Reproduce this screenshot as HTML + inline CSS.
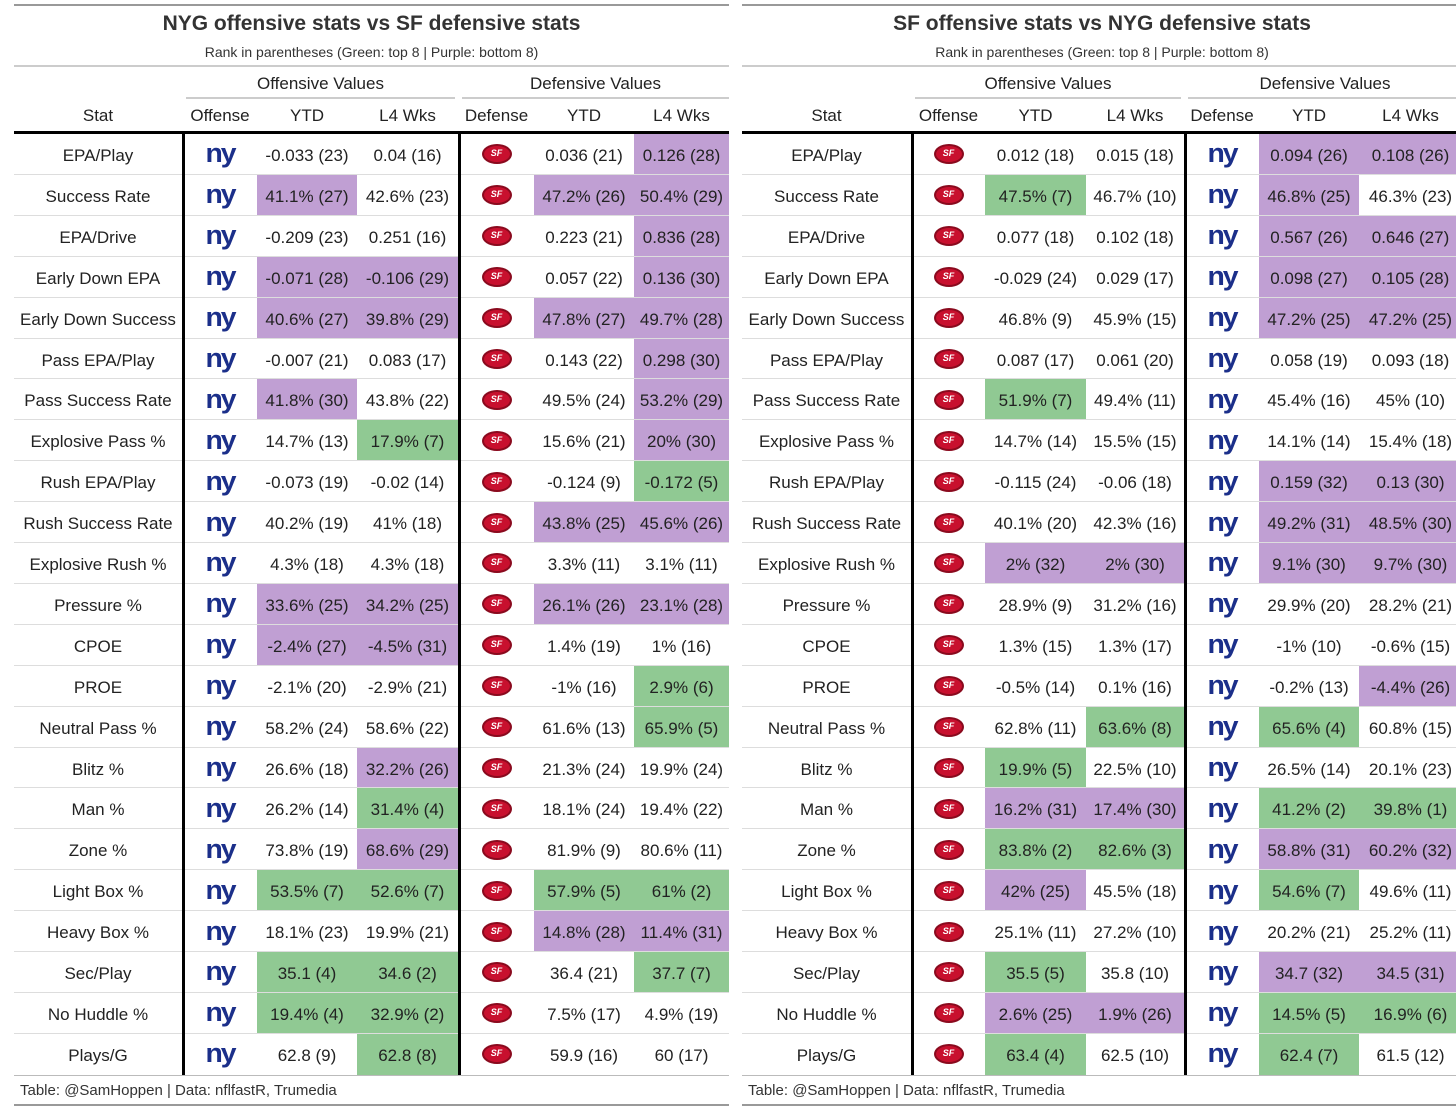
<!DOCTYPE html>
<html><head><meta charset="utf-8">
<style>
body{margin:0;width:1456px;height:1110px;background:#fff;overflow:hidden;font-family:"Liberation Sans",sans-serif;color:#222;position:relative}
div.a{position:absolute;box-sizing:border-box}
.t{text-align:center;white-space:nowrap}
.ny{font-family:"Liberation Sans",sans-serif;font-weight:bold;color:#1b2f8a;font-size:27px;letter-spacing:-2px;line-height:28px;transform:scaleX(1.05)}
.sf{width:30px;height:19px;border-radius:50%;background:#c8102e;border:2px solid #8a0a1e;box-sizing:border-box;color:#fff;font-size:9px;font-weight:bold;line-height:15px;text-align:center;font-style:italic}
</style></head><body>
<script>
const stats=["EPA/Play","Success Rate","EPA/Drive","Early Down EPA","Early Down Success","Pass EPA/Play","Pass Success Rate","Explosive Pass %","Rush EPA/Play","Rush Success Rate","Explosive Rush %","Pressure %","CPOE","PROE","Neutral Pass %","Blitz %","Man %","Zone %","Light Box %","Heavy Box %","Sec/Play","No Huddle %","Plays/G"];
const nygOffYTD=["-0.033 (23)","41.1% (27)","-0.209 (23)","-0.071 (28)","40.6% (27)","-0.007 (21)","41.8% (30)","14.7% (13)","-0.073 (19)","40.2% (19)","4.3% (18)","33.6% (25)","-2.4% (27)","-2.1% (20)","58.2% (24)","26.6% (18)","26.2% (14)","73.8% (19)","53.5% (7)","18.1% (23)","35.1 (4)","19.4% (4)","62.8 (9)"];
const nygOffL4=["0.04 (16)","42.6% (23)","0.251 (16)","-0.106 (29)","39.8% (29)","0.083 (17)","43.8% (22)","17.9% (7)","-0.02 (14)","41% (18)","4.3% (18)","34.2% (25)","-4.5% (31)","-2.9% (21)","58.6% (22)","32.2% (26)","31.4% (4)","68.6% (29)","52.6% (7)","19.9% (21)","34.6 (2)","32.9% (2)","62.8 (8)"];
const sfDefYTD=["0.036 (21)","47.2% (26)","0.223 (21)","0.057 (22)","47.8% (27)","0.143 (22)","49.5% (24)","15.6% (21)","-0.124 (9)","43.8% (25)","3.3% (11)","26.1% (26)","1.4% (19)","-1% (16)","61.6% (13)","21.3% (24)","18.1% (24)","81.9% (9)","57.9% (5)","14.8% (28)","36.4 (21)","7.5% (17)","59.9 (16)"];
const sfDefL4=["0.126 (28)","50.4% (29)","0.836 (28)","0.136 (30)","49.7% (28)","0.298 (30)","53.2% (29)","20% (30)","-0.172 (5)","45.6% (26)","3.1% (11)","23.1% (28)","1% (16)","2.9% (6)","65.9% (5)","19.9% (24)","19.4% (22)","80.6% (11)","61% (2)","11.4% (31)","37.7 (7)","4.9% (19)","60 (17)"];
const sfOffYTD=["0.012 (18)","47.5% (7)","0.077 (18)","-0.029 (24)","46.8% (9)","0.087 (17)","51.9% (7)","14.7% (14)","-0.115 (24)","40.1% (20)","2% (32)","28.9% (9)","1.3% (15)","-0.5% (14)","62.8% (11)","19.9% (5)","16.2% (31)","83.8% (2)","42% (25)","25.1% (11)","35.5 (5)","2.6% (25)","63.4 (4)"];
const sfOffL4=["0.015 (18)","46.7% (10)","0.102 (18)","0.029 (17)","45.9% (15)","0.061 (20)","49.4% (11)","15.5% (15)","-0.06 (18)","42.3% (16)","2% (30)","31.2% (16)","1.3% (17)","0.1% (16)","63.6% (8)","22.5% (10)","17.4% (30)","82.6% (3)","45.5% (18)","27.2% (10)","35.8 (10)","1.9% (26)","62.5 (10)"];
const nygDefYTD=["0.094 (26)","46.8% (25)","0.567 (26)","0.098 (27)","47.2% (25)","0.058 (19)","45.4% (16)","14.1% (14)","0.159 (32)","49.2% (31)","9.1% (30)","29.9% (20)","-1% (10)","-0.2% (13)","65.6% (4)","26.5% (14)","41.2% (2)","58.8% (31)","54.6% (7)","20.2% (21)","34.7 (32)","14.5% (5)","62.4 (7)"];
const nygDefL4=["0.108 (26)","46.3% (23)","0.646 (27)","0.105 (28)","47.2% (25)","0.093 (18)","45% (10)","15.4% (18)","0.13 (30)","48.5% (30)","9.7% (30)","28.2% (21)","-0.6% (15)","-4.4% (26)","60.8% (15)","20.1% (23)","39.8% (1)","60.2% (32)","49.6% (11)","25.2% (11)","34.5 (31)","16.9% (6)","61.5 (12)"];

const ROW0=134, RH=40.9;
function el(x,y,w,h,css,txt,name){const d=document.createElement('div');d.className='a'+(txt!==undefined?' t':'');
d.style.cssText=`left:${x}px;top:${y}px;width:${w}px;height:${h}px;`+(css||'');
if(txt!==undefined){d.textContent=txt;}


document.body.appendChild(d);return d;}
function rankColor(s){const r=+s.match(/\((\d+)\)/)[1];return r<=8?'#90c993':(r>=25?'#c09fd3':'transparent');}
function logo(type,cx,cy){
  let d;
  if(type==='ny'){d=el(cx-20,cy-15,40,28,'', 'ny','ny-logo');d.classList.add('ny');}
  else{d=el(cx-15,cy-10,30,20,'','SF','sf-logo');d.classList.add('sf');}
}
function table(X,cols,title,offTeam,defTeam,oy,ol,dy,dl,key){
  const [s0,s1,o0,o1,o2,o3,d0,d1,d2,d3]=cols;
  el(X,4,d3-X,2,'background:#999','', key+'-top-rule');
  el(X,9,d3-X,30,'font-size:21px;font-weight:bold;line-height:30px;color:#333',title,key+'-title');
  el(X,42,d3-X,20,'font-size:14px;line-height:20px;color:#333','Rank in parentheses (Green: top 8 | Purple: bottom 8)',key+'-subtitle');
  el(X,65,d3-X,2,'background:#ccc','',key+'-subtitle-rule');
  el(o0+3,73,o3-o0-6,22,'font-size:17px;line-height:22px','Offensive Values',key+'-offense-spanner');
  el(o0+3,97,o3-o0-6,2,'background:#ccc','',key+'-offense-spanner-rule');
  el(d0+3,73,d3-d0-3,22,'font-size:17px;line-height:22px','Defensive Values',key+'-defense-spanner');
  el(d0+3,97,d3-d0-3,2,'background:#ccc','',key+'-defense-spanner-rule');
  const heads=[[s0,s1,'Stat'],[o0,o1,'Offense'],[o1,o2,'YTD'],[o2,o3,'L4 Wks'],[d0,d1,'Defense'],[d1,d2,'YTD'],[d2,d3,'L4 Wks']];
  heads.forEach((h,i)=>el(h[0],105,h[1]-h[0],22,'font-size:17px;line-height:22px',h[2],key+'-col-header-'+i));
  el(X,131,d3-X,3,'background:#000','',key+'-header-rule');
  stats.forEach((s,i)=>{
    const y=ROW0+i*RH, cy=y+RH/2;
    const cells=[[o1,o2,oy[i]],[o2,o3,ol[i]],[d1,d2,dy[i]],[d2,d3,dl[i]]];
    cells.forEach((c,j)=>{el(c[0],y,c[1]-c[0],RH,`background:${rankColor(c[2])};font-size:17px;padding-top:3px;line-height:${RH-3}px;color:#222`,c[2],key+'-cell');});
    el(s0,y,s1-s0,RH,`font-size:17px;padding-top:3px;line-height:${RH-3}px`,s,key+'-stat-label');
    logo(offTeam,(o0+o1)/2,cy);logo(defTeam,(d0+d1)/2,cy);
    if(i<stats.length-1) el(X,y+RH-1,d3-X,1,'background:#ddd','',key+'-row-rule');
  });
  const yEnd=ROW0+stats.length*RH;
  el(o0-1,131,3,yEnd-131,'background:#000','',key+'-offense-divider');
  el(d0-1,131,3,yEnd-131,'background:#000','',key+'-defense-divider');
  el(X,yEnd,d3-X,1,'background:#bbb','',key+'-bottom-rule');
  el(X+6,yEnd+5,400,22,'font-size:15px;line-height:22px;text-align:left;color:#333','Table: @SamHoppen | Data: nflfastR, Trumedia',key+'-source');
  el(X,1104,d3-X,2,'background:#999','',key+'-footer-rule');
}
table(14,[14,182,183,257,357,458,459,534,634,729],'NYG offensive stats vs SF defensive stats','ny','sf',nygOffYTD,nygOffL4,sfDefYTD,sfDefL4,'left');
table(742,[742,911,912,985,1086,1184,1185,1259,1359,1462],'SF offensive stats vs NYG defensive stats','sf','ny',sfOffYTD,sfOffL4,nygDefYTD,nygDefL4,'right');
</script>
</body></html>
